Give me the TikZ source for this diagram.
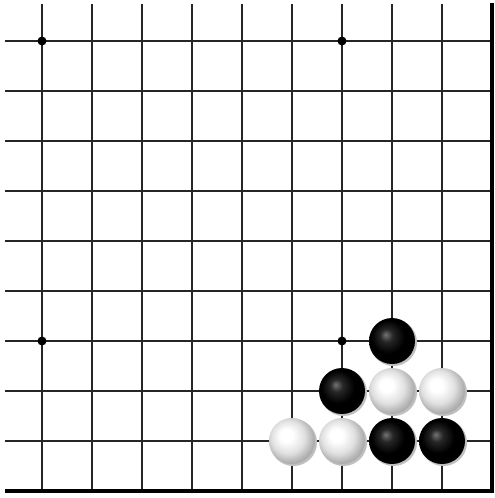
\documentclass[tikz,border=0pt]{standalone}
\pgfdeclareradialshading{whitestone}{\pgfpoint{-7bp}{7bp}}{color(0bp)=(white); color(7bp)=(white); color(18bp)=(black!12); color(27bp)=(black!32); color(50bp)=(black!45)}
\pgfdeclareradialshading{blackstone}{\pgfpoint{-7bp}{7bp}}{color(0bp)=(black!55); color(7bp)=(black!85); color(18bp)=(black); color(50bp)=(black)}
\tikzset{
  gridline/.style={line width=2.2pt, black!85},
  edgeline/.style={line width=4pt, black},
  star/.style={circle, fill=black, inner sep=0pt, minimum size=9pt},
  stoneshadow/.style={fill=black!25},
  whitest/.style={shading=whitestone},
  blackst/.style={shading=blackstone}
}
\begin{document}
\begin{tikzpicture}[x=1pt,y=-1pt]
\useasboundingbox[fill=white] (0,0) rectangle (495,498);
% grid
\foreach \x in {42,92,...,442} \draw[gridline] (\x,4) -- (\x,491);
\foreach \y in {41,91,...,441} \draw[gridline] (5,\y) -- (492,\y);
\draw[edgeline] (492,3) -- (492,493);
\draw[edgeline] (5,491) -- (494,491);
% star points
\foreach \x/\y in {42/41,342/41,42/341,342/341} \node[star] at (\x,\y) {};
% stones
\foreach \x/\y/\c in {392/341/blackst,342/391/blackst,392/391/whitest,442/391/whitest,292/441/whitest,342/441/whitest,392/441/blackst,442/441/blackst}{
  \fill[stoneshadow] (\x+1.5,\y+1.5) circle (23.5);
  \shade[\c] (\x,\y) circle (23);
}
\end{tikzpicture}
\end{document}
